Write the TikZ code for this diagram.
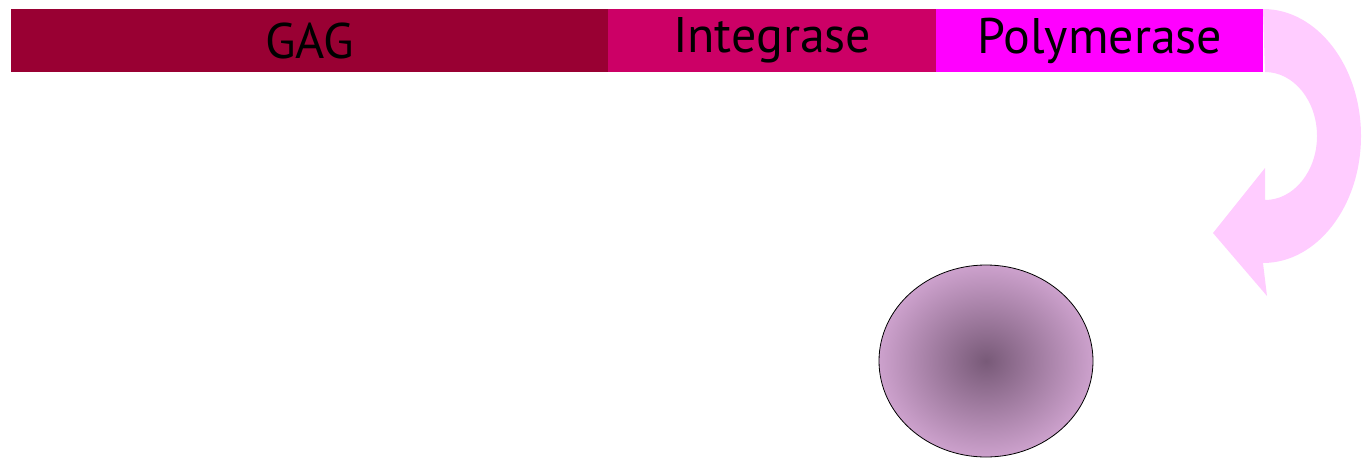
\documentclass[tikz,border=0pt]{standalone}
\usepackage{fontspec}
\setmainfont{PT Sans}
\usetikzlibrary{shapes.geometric}
\definecolor{gagred}{HTML}{990033}
\definecolor{intpink}{HTML}{CC0066}
\definecolor{polmag}{HTML}{FF00FF}
\definecolor{arrowpink}{HTML}{FFCCFF}
\definecolor{cellcore}{HTML}{785A78}
\definecolor{cellrim}{HTML}{D0A4D0}
\pgfdeclareradialshading{cellshade}{\pgfpoint{0bp}{0bp}}{%
  color(0bp)=(cellcore); color(26bp)=(cellrim); color(50bp)=(cellrim)}
\begin{document}
\begin{tikzpicture}[x=1pt,y=-1pt,
  gene/.style={draw=none,minimum height=63pt,inner sep=0pt,
    font=\fontsize{50}{50}\selectfont,text=black,anchor=north west}]
\useasboundingbox (0,0) rectangle (1363,458);
% genome segments
\node[gene,fill=gagred,minimum width=597pt] (gag) at (11,9) {GAG};
\node[gene,fill=intpink,minimum width=328pt] (int) at (608,9) {Integrase};
\node[gene,fill=polmag,minimum width=327pt] (pol) at (936,9) {Polymerase};
% curved arrow turning down from the end of the genome
\fill[arrowpink] (1263,9) arc[start angle=90,end angle=-90,x radius=98pt,y radius=127pt]
  -- (1267,296) -- (1213,233) -- (1265,168) -- (1265,200)
  arc[start angle=-90,end angle=90,x radius=52pt,y radius=64pt] -- cycle;
% particle
\node[ellipse,draw=black,line width=0.8pt,shading=cellshade,
  minimum width=214pt,minimum height=192pt,inner sep=0pt] (cell) at (986,361) {};
\end{tikzpicture}
\end{document}
